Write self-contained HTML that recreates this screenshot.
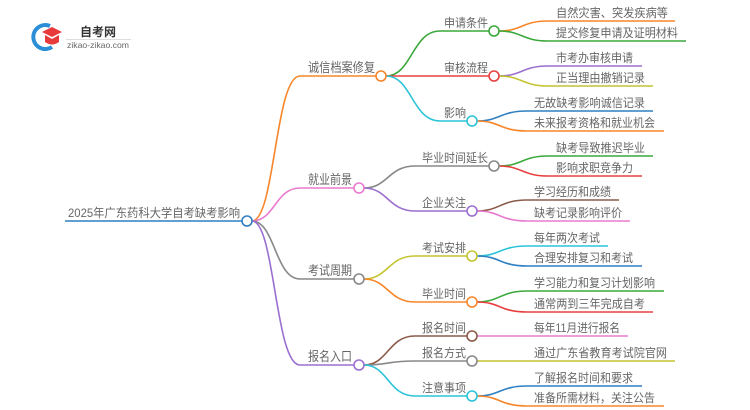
<!DOCTYPE html>
<html><head><meta charset="utf-8"><style>
html,body{margin:0;padding:0;background:#fff;}
svg{display:block;font-family:"Liberation Sans","Noto Sans CJK SC",sans-serif;}
.t{fill:#666;font-size:12px;}
</style></head><body>
<svg width="750" height="410" viewBox="0 0 750 410" xmlns="http://www.w3.org/2000/svg">
<!-- logo -->
<path d="M50 26 A12 12 0 1 0 52 47" fill="none" stroke="#2a8fd6" stroke-width="4"/>
<path d="M42 32 L52 27 L62 32 L52 37 Z" fill="#e83a3a"/>
<path d="M45 35 L45 42 Q52 47 59 42 L59 35 L52 39 Z" fill="#e83a3a"/>
<text x="80" y="36" font-size="12" font-weight="bold" fill="#333" textLength="36" lengthAdjust="spacingAndGlyphs">自考网</text>
<line x1="66" y1="39.5" x2="131" y2="39.5" stroke="#ddd" stroke-width="1"/>
<text x="67" y="48" font-size="8.5" fill="#666" textLength="62" lengthAdjust="spacingAndGlyphs">zikao-zikao.com</text>

<g fill="none" stroke-width="1.6">
<path d="M65 221 H242" stroke="#2f7fc1"/>
<path d="M252 221 C275 221 275 76 300 76 H376" stroke="#f7862a"/>
<path d="M252 221 C275 221 275 188 300 188 H354" stroke="#e97bcf"/>
<path d="M252 221 C275 221 275 279 300 279 H354" stroke="#888"/>
<path d="M252 221 C275 221 275 365 300 365 H354" stroke="#9b6fd0"/>
<path d="M386 76 C412 76 412 31 440 31 H489" stroke="#3aa83a"/>
<path d="M386 76 H489" stroke="#e84040"/>
<path d="M386 76 C412 76 412 121 440 121 H467" stroke="#2cc3d8"/>
<path d="M364 188 C388 188 388 166 415 166 H489" stroke="#888"/>
<path d="M364 188 C388 188 388 211 415 211 H467" stroke="#9b6fd0"/>
<path d="M364 279 C388 279 388 256 415 256 H467" stroke="#c4c430"/>
<path d="M364 279 C388 279 388 302 415 302 H467" stroke="#f7862a"/>
<path d="M364 365 C388 365 388 336 415 336 H467" stroke="#8b5a4a"/>
<path d="M364 365 C388 365 388 361 415 361 H467" stroke="#888"/>
<path d="M364 365 C388 365 388 396 415 396 H467" stroke="#2cc3d8"/>
<path d="M499 31 C522 31 522 21 548 21 H675" stroke="#f7862a"/>
<path d="M499 31 C522 31 522 41 548 41 H686" stroke="#3aa83a"/>
<path d="M499 76 C522 76 522 66 548 66 H642" stroke="#9b6fd0"/>
<path d="M499 76 C522 76 522 86 548 86 H653" stroke="#c4c430"/>
<path d="M477 121 C500 121 500 111 527 111 H653" stroke="#2f7fc1"/>
<path d="M477 121 C500 121 500 131 527 131 H664" stroke="#f7862a"/>
<path d="M499 166 C522 166 522 156 548 156 H653" stroke="#3aa83a"/>
<path d="M499 166 C522 166 522 176 548 176 H642" stroke="#e84040"/>
<path d="M477 211 C500 211 500 200 527 200 H619" stroke="#8b5a4a"/>
<path d="M477 211 C500 211 500 221 527 221 H630" stroke="#e97bcf"/>
<path d="M477 256 C500 256 500 246 527 246 H608" stroke="#2cc3d8"/>
<path d="M477 256 C500 256 500 266 527 266 H642" stroke="#2f7fc1"/>
<path d="M477 302 C500 302 500 291 527 291 H664" stroke="#3aa83a"/>
<path d="M477 302 C500 302 500 312 527 312 H653" stroke="#e84040"/>
<path d="M477 336 H628" stroke="#e97bcf"/>
<path d="M477 361 H675" stroke="#c4c430"/>
<path d="M477 396 C500 396 500 386 527 386 H642" stroke="#2f7fc1"/>
<path d="M477 396 C500 396 500 406 527 406 H664" stroke="#f7862a"/>
</g>
<g fill="#fff" stroke-width="1.6">
<circle cx="247" cy="221" r="5" stroke="#2f7fc1"/>
<circle cx="381" cy="76" r="5" stroke="#f7862a"/>
<circle cx="359" cy="188" r="5" stroke="#e97bcf"/>
<circle cx="359" cy="279" r="5" stroke="#888"/>
<circle cx="359" cy="365" r="5" stroke="#9b6fd0"/>
<circle cx="494" cy="31" r="5" stroke="#3aa83a"/>
<circle cx="494" cy="76" r="5" stroke="#e84040"/>
<circle cx="472" cy="121" r="5" stroke="#2cc3d8"/>
<circle cx="494" cy="166" r="5" stroke="#888"/>
<circle cx="472" cy="211" r="5" stroke="#9b6fd0"/>
<circle cx="472" cy="256" r="5" stroke="#c4c430"/>
<circle cx="472" cy="302" r="5" stroke="#f7862a"/>
<circle cx="472" cy="336" r="5" stroke="#8b5a4a"/>
<circle cx="472" cy="361" r="5" stroke="#888"/>
<circle cx="472" cy="396" r="5" stroke="#2cc3d8"/>
</g>
<g class="t" lengthAdjust="spacingAndGlyphs">
<text x="68" y="217" textLength="172" lengthAdjust="spacingAndGlyphs">2025年广东药科大学自考缺考影响</text>
<text x="308" y="72" textLength="67" lengthAdjust="spacingAndGlyphs" font-size="13">诚信档案修复</text>
<text x="308" y="184" textLength="44" lengthAdjust="spacingAndGlyphs" font-size="13">就业前景</text>
<text x="308" y="275" textLength="44" lengthAdjust="spacingAndGlyphs" font-size="13">考试周期</text>
<text x="308" y="361" textLength="44" lengthAdjust="spacingAndGlyphs" font-size="13">报名入口</text>
<text x="444" y="27" textLength="44" lengthAdjust="spacingAndGlyphs">申请条件</text>
<text x="444" y="72" textLength="44" lengthAdjust="spacingAndGlyphs">审核流程</text>
<text x="444" y="117" textLength="22" lengthAdjust="spacingAndGlyphs">影响</text>
<text x="422" y="162" textLength="66" lengthAdjust="spacingAndGlyphs">毕业时间延长</text>
<text x="422" y="207" textLength="44" lengthAdjust="spacingAndGlyphs">企业关注</text>
<text x="422" y="252" textLength="44" lengthAdjust="spacingAndGlyphs">考试安排</text>
<text x="422" y="298" textLength="44" lengthAdjust="spacingAndGlyphs">毕业时间</text>
<text x="422" y="332" textLength="44" lengthAdjust="spacingAndGlyphs">报名时间</text>
<text x="422" y="357" textLength="44" lengthAdjust="spacingAndGlyphs">报名方式</text>
<text x="422" y="392" textLength="44" lengthAdjust="spacingAndGlyphs">注意事项</text>
<text x="556" y="17" textLength="112" lengthAdjust="spacingAndGlyphs">自然灾害、突发疾病等</text>
<text x="556" y="37" textLength="122" lengthAdjust="spacingAndGlyphs">提交修复申请及证明材料</text>
<text x="556" y="62" textLength="77" lengthAdjust="spacingAndGlyphs">市考办审核申请</text>
<text x="556" y="82" textLength="89" lengthAdjust="spacingAndGlyphs">正当理由撤销记录</text>
<text x="534" y="107" textLength="111" lengthAdjust="spacingAndGlyphs">无故缺考影响诚信记录</text>
<text x="534" y="127" textLength="121" lengthAdjust="spacingAndGlyphs">未来报考资格和就业机会</text>
<text x="556" y="152" textLength="89" lengthAdjust="spacingAndGlyphs">缺考导致推迟毕业</text>
<text x="556" y="172" textLength="77" lengthAdjust="spacingAndGlyphs">影响求职竞争力</text>
<text x="534" y="196" textLength="77" lengthAdjust="spacingAndGlyphs">学习经历和成绩</text>
<text x="534" y="217" textLength="88" lengthAdjust="spacingAndGlyphs">缺考记录影响评价</text>
<text x="534" y="242" textLength="66" lengthAdjust="spacingAndGlyphs">每年两次考试</text>
<text x="534" y="262" textLength="99" lengthAdjust="spacingAndGlyphs">合理安排复习和考试</text>
<text x="534" y="287" textLength="121" lengthAdjust="spacingAndGlyphs">学习能力和复习计划影响</text>
<text x="534" y="308" textLength="111" lengthAdjust="spacingAndGlyphs">通常两到三年完成自考</text>
<text x="534" y="332" textLength="86" lengthAdjust="spacingAndGlyphs">每年11月进行报名</text>
<text x="534" y="357" textLength="133" lengthAdjust="spacingAndGlyphs">通过广东省教育考试院官网</text>
<text x="534" y="382" textLength="99" lengthAdjust="spacingAndGlyphs">了解报名时间和要求</text>
<text x="534" y="402" textLength="121" lengthAdjust="spacingAndGlyphs">准备所需材料，关注公告</text>
</g>
</svg>
</body></html>
